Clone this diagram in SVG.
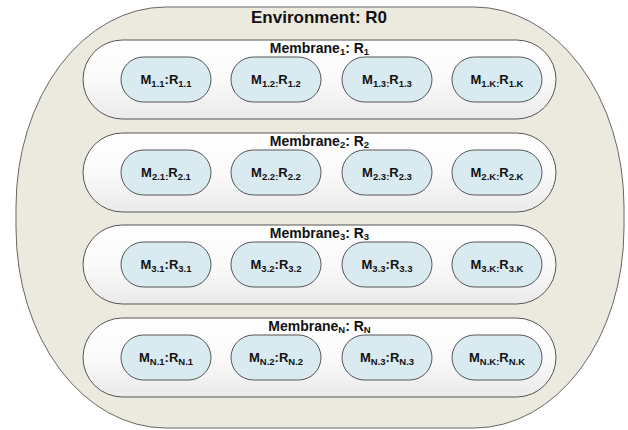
<svg xmlns="http://www.w3.org/2000/svg" width="628" height="430" viewBox="0 0 628 430">
<style>
text{font-family:"Liberation Sans",Arial,sans-serif;font-weight:bold;fill:#111;text-anchor:middle}
.env{fill:#ECEADF;stroke:#666;stroke-width:1}
.mem{fill:url(#mg);stroke:#555;stroke-width:1}
.cell{fill:#DAEAF1;stroke:#555;stroke-width:1}
.t{font-size:17px}
.ml{font-size:14px}
.cl{font-size:13px}
.s{font-size:9.5px}
</style>
<defs>
<linearGradient id="mg" x1="0" y1="0" x2="0" y2="1">
<stop offset="0" stop-color="#FFFFFF"/>
<stop offset="0.5" stop-color="#FAFAFA"/>
<stop offset="1" stop-color="#EAEAEA"/>
</linearGradient>
</defs>
<g id="environment">
<rect class="env" x="16" y="7" width="608" height="421" rx="150" ry="200"/>
<text class="t" x="319" y="23">Environment: R0</text>
</g>
<g id="membrane1">
<rect class="mem" x="83" y="40" width="473" height="79" rx="39.5" ry="39.5"/>
<text class="ml" x="319.5" y="53">Membrane<tspan class="s" dy="2">1</tspan><tspan dy="-2">: R</tspan><tspan class="s" dy="2">1</tspan></text>
</g>
<g id="m11"><rect class="cell" x="121" y="57" width="90" height="45" rx="22.5"/><text class="cl" x="166" y="84">M<tspan class="s" dy="3">1.1</tspan><tspan dy="-3">:R</tspan><tspan class="s" dy="3">1.1</tspan></text></g>
<g id="m12"><rect class="cell" x="231" y="57" width="90" height="45" rx="22.5"/><text class="cl" x="276" y="84">M<tspan class="s" dy="3">1.2:</tspan><tspan dy="-3">R</tspan><tspan class="s" dy="3">1.2</tspan></text></g>
<g id="m13"><rect class="cell" x="342" y="57" width="90" height="45" rx="22.5"/><text class="cl" x="387" y="84">M<tspan class="s" dy="3">1.3:</tspan><tspan dy="-3">R</tspan><tspan class="s" dy="3">1.3</tspan></text></g>
<g id="m1k"><rect class="cell" x="452" y="57" width="90" height="45" rx="22.5"/><text class="cl" x="497" y="84">M<tspan class="s" dy="3">1.K:</tspan><tspan dy="-3">R</tspan><tspan class="s" dy="3">1.K</tspan></text></g>
<g id="membrane2">
<rect class="mem" x="83" y="133" width="473" height="79" rx="39.5" ry="39.5"/>
<text class="ml" x="319.5" y="146">Membrane<tspan class="s" dy="2">2</tspan><tspan dy="-2">: R</tspan><tspan class="s" dy="2">2</tspan></text>
</g>
<g id="m21"><rect class="cell" x="121" y="150" width="90" height="45" rx="22.5"/><text class="cl" x="166" y="177">M<tspan class="s" dy="3">2.1:</tspan><tspan dy="-3">R</tspan><tspan class="s" dy="3">2.1</tspan></text></g>
<g id="m22"><rect class="cell" x="231" y="150" width="90" height="45" rx="22.5"/><text class="cl" x="276" y="177">M<tspan class="s" dy="3">2.2:</tspan><tspan dy="-3">R</tspan><tspan class="s" dy="3">2.2</tspan></text></g>
<g id="m23"><rect class="cell" x="342" y="150" width="90" height="45" rx="22.5"/><text class="cl" x="387" y="177">M<tspan class="s" dy="3">2.3:</tspan><tspan dy="-3">R</tspan><tspan class="s" dy="3">2.3</tspan></text></g>
<g id="m2k"><rect class="cell" x="452" y="150" width="90" height="45" rx="22.5"/><text class="cl" x="497" y="177">M<tspan class="s" dy="3">2.K:</tspan><tspan dy="-3">R</tspan><tspan class="s" dy="3">2.K</tspan></text></g>
<g id="membrane3">
<rect class="mem" x="83" y="225" width="473" height="79" rx="39.5" ry="39.5"/>
<text class="ml" x="319.5" y="238">Membrane<tspan class="s" dy="2">3</tspan><tspan dy="-2">: R</tspan><tspan class="s" dy="2">3</tspan></text>
</g>
<g id="m31"><rect class="cell" x="121" y="242" width="90" height="45" rx="22.5"/><text class="cl" x="166" y="269">M<tspan class="s" dy="3">3.1</tspan><tspan dy="-3">:R</tspan><tspan class="s" dy="3">3.1</tspan></text></g>
<g id="m32"><rect class="cell" x="231" y="242" width="90" height="45" rx="22.5"/><text class="cl" x="276" y="269">M<tspan class="s" dy="3">3.2</tspan><tspan dy="-3">:R</tspan><tspan class="s" dy="3">3.2</tspan></text></g>
<g id="m33"><rect class="cell" x="342" y="242" width="90" height="45" rx="22.5"/><text class="cl" x="387" y="269">M<tspan class="s" dy="3">3.3</tspan><tspan dy="-3">:R</tspan><tspan class="s" dy="3">3.3</tspan></text></g>
<g id="m3k"><rect class="cell" x="452" y="242" width="90" height="45" rx="22.5"/><text class="cl" x="497" y="269">M<tspan class="s" dy="3">3.K:</tspan><tspan dy="-3">R</tspan><tspan class="s" dy="3">3.K</tspan></text></g>
<g id="membraneN">
<rect class="mem" x="83" y="318" width="473" height="79" rx="39.5" ry="39.5"/>
<text class="ml" x="319.5" y="331">Membrane<tspan class="s" dy="2">N</tspan><tspan dy="-2">: R</tspan><tspan class="s" dy="2">N</tspan></text>
</g>
<g id="mn1"><rect class="cell" x="121" y="335" width="90" height="45" rx="22.5"/><text class="cl" x="166" y="362">M<tspan class="s" dy="3">N.1</tspan><tspan dy="-3">:R</tspan><tspan class="s" dy="3">N.1</tspan></text></g>
<g id="mn2"><rect class="cell" x="231" y="335" width="90" height="45" rx="22.5"/><text class="cl" x="276" y="362">M<tspan class="s" dy="3">N.2</tspan><tspan dy="-3">:R</tspan><tspan class="s" dy="3">N.2</tspan></text></g>
<g id="mn3"><rect class="cell" x="342" y="335" width="90" height="45" rx="22.5"/><text class="cl" x="387" y="362">M<tspan class="s" dy="3">N.3</tspan><tspan dy="-3">:R</tspan><tspan class="s" dy="3">N.3</tspan></text></g>
<g id="mnk"><rect class="cell" x="452" y="335" width="90" height="45" rx="22.5"/><text class="cl" x="497" y="362">M<tspan class="s" dy="3">N.K:</tspan><tspan dy="-3">R</tspan><tspan class="s" dy="3">N.K</tspan></text></g>
<g id="connectors"/>
</svg>
